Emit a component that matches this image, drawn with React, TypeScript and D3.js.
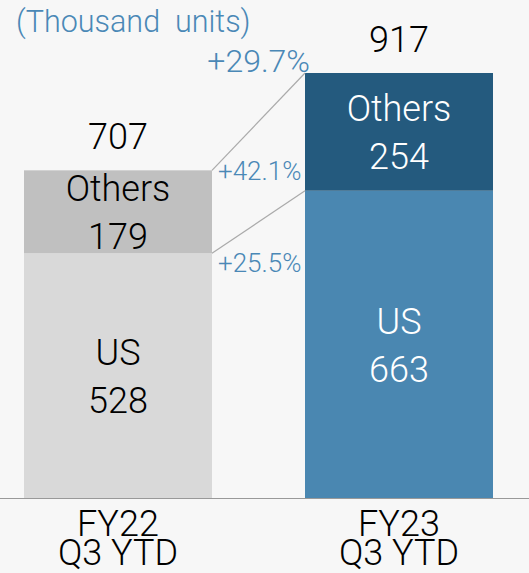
import React from "react";
import * as d3 from "d3";

const categories = ["FY22\nQ3 YTD", "FY23\nQ3 YTD"];
const usValues = [528, 663];
const othersValues = [179, 254];
const segmentNames = ["US", "Others"];
const growthTotal = "+29.7%";
const growthOthers = "+42.1%";
const growthUS = "+25.5%";
const unitLabel = "(Thousand  units)";

const W = 529;
const H = 573;
const FONT = "Roboto, 'Liberation Sans', Arial, sans-serif";

const fills = [
  ["#d9d9d9", "#c0c0c0"],
  ["#4a87b1", "#245a7e"],
];
const textColors = ["#000", "#fff"];
const BLUE = "#4a88b6";

export default function App() {
  const totals = usValues.map((v, i) => v + othersValues[i]);
  const x = d3.scaleBand<string>().domain(categories).range([24, 493]).paddingInner(0.331).paddingOuter(0);
  const y = d3.scaleLinear().domain([0, d3.max(totals) as number]).range([498, 73]);
  const bw = x.bandwidth();
  const x0 = x(categories[0]) as number;
  const x1 = x(categories[1]) as number;

  const segs = categories.map((c, i) => [
    { name: segmentNames[0], v0: 0, v1: usValues[i], val: usValues[i] },
    { name: segmentNames[1], v0: usValues[i], v1: totals[i], val: othersValues[i] },
  ]);

  return (
    <svg width={W} height={H} style={{ position: "fixed", left: 0, top: 0, background: "#f7f7f7" }} fontFamily={FONT}>
      <rect x={0} y={0} width={W} height={H} fill="#f7f7f7" />
      <text x={16} y={32} fontSize={30.5} fill={BLUE} fontWeight={300} style={{ whiteSpace: "pre" }}>
        {unitLabel}
      </text>
      {segs.map((stack, i) =>
        stack.map((s, j) => {
          const top = y(s.v1);
          const bot = y(s.v0);
          const cx = (x(categories[i]) as number) + bw / 2;
          const cy = (top + bot) / 2;
          return (
            <g key={`${i}-${j}`}>
              <rect x={x(categories[i])} y={top} width={bw} height={bot - top} fill={fills[i][j]} />
              <text x={cx} y={cy - 24 + 13.5} textAnchor="middle" fontSize={36} fontWeight={300} fill={textColors[i]}>
                {s.name}
              </text>
              <text x={cx} y={cy + 24 + 13.5} textAnchor="middle" fontSize={36} fontWeight={300} fill={textColors[i]}>
                {s.val}
              </text>
            </g>
          );
        })
      )}
      {totals.map((t, i) => (
        <text key={t} x={(x(categories[i]) as number) + bw / 2} y={y(t) - 21.5} textAnchor="middle" fontSize={36} fontWeight={300} fill="#000">
          {t}
        </text>
      ))}
      <line x1={x0 + bw} y1={y(totals[0])} x2={x1} y2={y(totals[1])} stroke="#aaa" strokeWidth={1.2} />
      <line x1={x0 + bw} y1={y(usValues[0])} x2={x1} y2={y(usValues[1])} stroke="#aaa" strokeWidth={1.2} />
      <text x={310} y={y(totals[1]) - 1} textAnchor="end" fontSize={32} fontWeight={300} fill={BLUE}>
        {growthTotal}
      </text>
      <text x={218} y={y(totals[0]) + 10} fontSize={26} fontWeight={300} fill={BLUE}>
        {growthOthers}
      </text>
      <text x={218} y={y(usValues[0]) + 18.5} fontSize={26} fontWeight={300} fill={BLUE}>
        {growthUS}
      </text>
      <line x1={0} x2={W} y1={y(0) + 0.5} y2={y(0) + 0.5} stroke="#999" strokeWidth={1} />
      {categories.map((c, i) => (
        <text key={c} x={(x(c) as number) + bw / 2} textAnchor="middle" fontSize={36} fontWeight={300} fill="#000">
          {c.split("\n").map((line, k) => (
            <tspan key={k} x={(x(c) as number) + bw / 2} y={535.5 + k * 29.5}>
              {line}
            </tspan>
          ))}
        </text>
      ))}
    </svg>
  );
}
